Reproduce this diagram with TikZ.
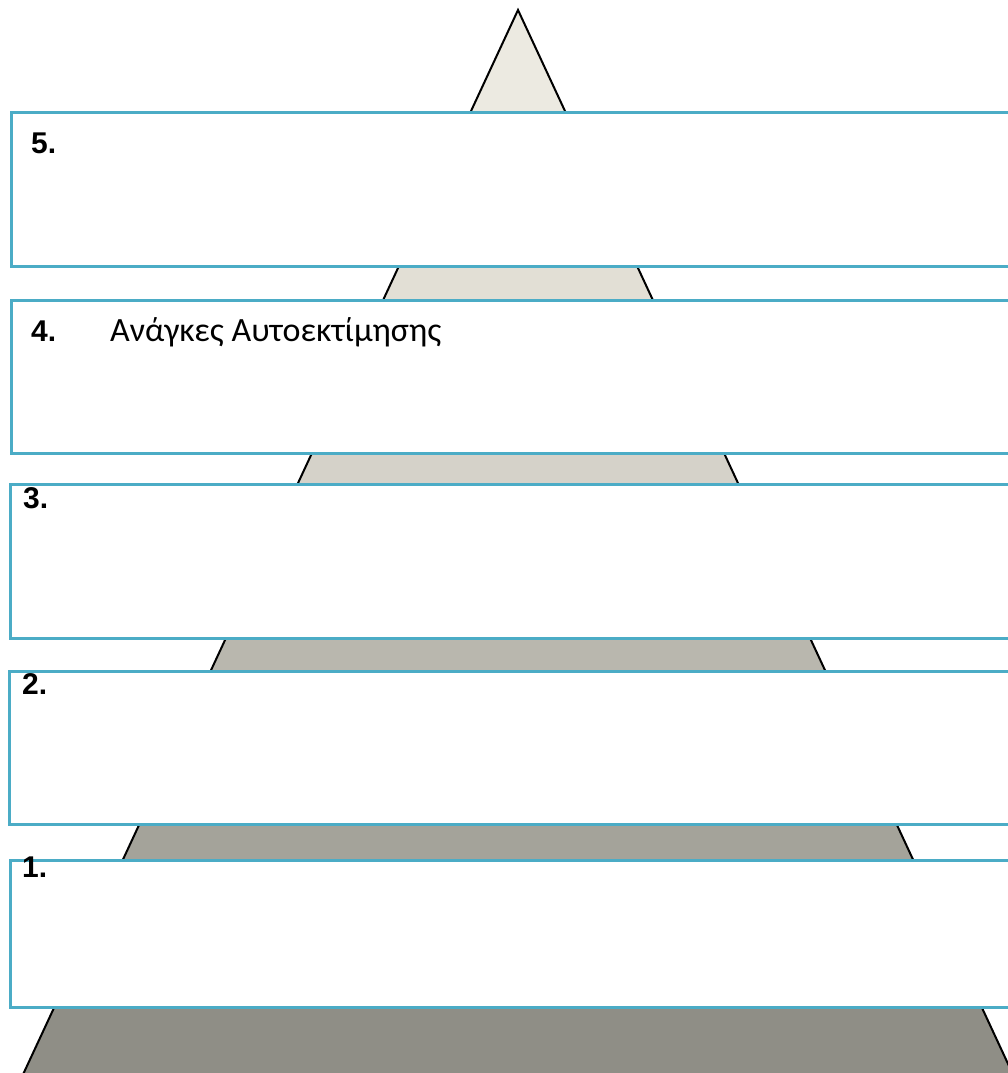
\documentclass[tikz,border=0pt]{standalone}
\usepackage{fontspec}
\setmainfont{Liberation Sans}
\newfontfamily\grfont{Carlito}
\definecolor{boxblue}{HTML}{4BACC6}
\definecolor{bandA}{HTML}{ECEAE1}
\definecolor{bandB}{HTML}{E2DFD5}
\definecolor{bandC}{HTML}{D5D2C9}
\definecolor{bandD}{HTML}{B9B7AE}
\definecolor{bandE}{HTML}{A4A39A}
\definecolor{bandF}{HTML}{8F8E86}
\begin{document}
\begin{tikzpicture}[x=1pt,y=-1pt,
  levelbox/.style={draw=boxblue,line width=3pt,fill=white},
  numlabel/.style={anchor=base west,inner sep=0pt,font=\fontsize{30}{36}\selectfont\bfseries},
  grlabel/.style={anchor=base west,inner sep=0pt,font=\grfont\fontsize{34}{40}\selectfont}]
\useasboundingbox (0,0) rectangle (1008,1073);
\clip (0,0) rectangle (1008,1073);
% pyramid bands (apex 518,10; half-width grows 0.465 per px)
\coordinate (apex) at (518,10);
\fill[bandA] (apex) -- (518-0.465*178,188) -- (518+0.465*178,188) -- cycle;
\fill[bandB] (518-0.465*178,188) -- (518+0.465*178,188) -- (518+0.465*365,375) -- (518-0.465*365,375) -- cycle;
\fill[bandC] (518-0.465*365,375) -- (518+0.465*365,375) -- (518+0.465*550,560) -- (518-0.465*550,560) -- cycle;
\fill[bandD] (518-0.465*550,560) -- (518+0.465*550,560) -- (518+0.465*736,746) -- (518-0.465*736,746) -- cycle;
\fill[bandE] (518-0.465*736,746) -- (518+0.465*736,746) -- (518+0.465*922,932) -- (518-0.465*922,932) -- cycle;
\fill[bandF] (518-0.465*922,932) -- (518+0.465*922,932) -- (518+0.465*1073,1083) -- (518-0.465*1073,1083) -- cycle;
\coordinate (baseL) at (518-0.465*1073,1083);
\coordinate (baseR) at (518+0.465*1073,1083);
\draw[line width=2pt,line join=miter] (baseL) -- (apex) -- (baseR);
% level boxes
\node[levelbox,minimum width=1040pt,minimum height=154pt,anchor=north west,inner sep=0pt] (b5) at (10,111) {};
\node[levelbox,minimum width=1040pt,minimum height=153pt,anchor=north west,inner sep=0pt] (b4) at (10,299) {};
\node[levelbox,minimum width=1040pt,minimum height=154pt,anchor=north west,inner sep=0pt] (b3) at (9,483) {};
\node[levelbox,minimum width=1040pt,minimum height=153pt,anchor=north west,inner sep=0pt] (b2) at (8,670) {};
\node[levelbox,minimum width=1040pt,minimum height=147pt,anchor=north west,inner sep=0pt] (b1) at (9,859) {};
% labels
\node[numlabel] (n5) at (31,153) {5.};
\node[numlabel] (n4) at (31,341) {4.};
\node[grlabel] (t4) at (110,341) {Ανάγκες Αυτοεκτίμησης};
\node[numlabel] (n3) at (23,508) {3.};
\node[numlabel] (n2) at (22,694) {2.};
\node[numlabel] (n1) at (22,877) {1.};
\end{tikzpicture}
\end{document}
